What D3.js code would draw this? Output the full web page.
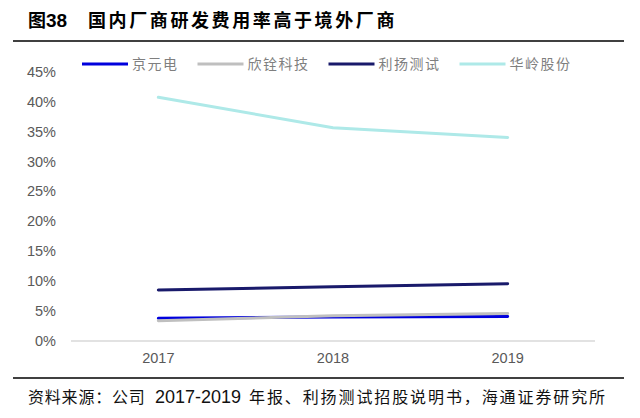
<!DOCTYPE html>
<html>
<head>
<meta charset="utf-8">
<script src="https://cdn.jsdelivr.net/npm/d3@7"></script>
<style>
  body { margin: 0; background: #fff; }
  svg { display: block; }
</style>
</head>
<body>
<script>
// data
const years = ['2017', '2018', '2019'];
const companies = ['京元电', '欣铨科技', '利扬测试', '华岭股份'];
const jingyuandian = [3.8, 4.0, 4.1];
const xinquan = [3.4, 4.2, 4.6];
const liyang = [8.5, 9.05, 9.55];
const hualing = [40.7, 35.6, 34.0];
const yTicks = [0, 5, 10, 15, 20, 25, 30, 35, 40, 45];

const colors = ['#0000dd', '#bfbfbf', '#191a6b', '#aee9e8'];
const seriesValues = [jingyuandian, xinquan, liyang, hualing];

const width = 640, height = 418;
const cjk = '"Noto Sans CJK SC", sans-serif';
const latin = '"Liberation Sans", Arial, sans-serif';

const svg = d3.select('body').append('svg')
    .attr('width', width)
    .attr('height', height);

// title
const title = svg.append('text')
    .attr('y', 27)
    .style('font-weight', 'bold')
    .style('font-size', '18px')
    .attr('fill', '#000');
title.append('tspan').attr('x', 28).style('font-family', cjk).text('图');
title.append('tspan').style('font-family', latin).style('font-size', '19px').text('38');
title.append('tspan')
    .attr('x', 88)
    .style('font-family', cjk)
    .style('letter-spacing', '2.6px')
    .text('国内厂商研发费用率高于境外厂商');

svg.append('line')
    .attr('x1', 13).attr('x2', 624)
    .attr('y1', 41).attr('y2', 41)
    .attr('stroke', '#000')
    .attr('stroke-width', 1.6);

const x = d3.scaleBand()
    .domain(years)
    .range([71, 595]);

const y = d3.scaleLinear()
    .domain([0, 45])
    .range([341, 71.5]);

// x axis baseline
svg.append('line')
    .attr('x1', x.range()[0]).attr('x2', x.range()[1])
    .attr('y1', y(0)).attr('y2', y(0))
    .attr('stroke', '#d9d9d9')
    .attr('stroke-width', 1.3);

// y tick labels
svg.append('g')
    .selectAll('text')
    .data(yTicks)
    .enter().append('text')
    .attr('x', 56)
    .attr('y', d => y(d))
    .attr('dy', '0.36em')
    .attr('text-anchor', 'end')
    .style('font-family', latin)
    .style('font-size', '14.5px')
    .attr('fill', '#595959')
    .text(d => d + '%');

// x tick labels
svg.append('g')
    .selectAll('text')
    .data(years)
    .enter().append('text')
    .attr('x', d => x(d) + x.bandwidth() / 2)
    .attr('y', 363)
    .attr('text-anchor', 'middle')
    .style('font-family', latin)
    .style('font-size', '14.5px')
    .attr('fill', '#595959')
    .text(d => d);

// lines
const line = d3.line()
    .x((d, i) => x(years[i]) + x.bandwidth() / 2)
    .y(d => y(d));

svg.append('g')
    .selectAll('path')
    .data(seriesValues)
    .enter().append('path')
    .attr('d', d => line(d))
    .attr('fill', 'none')
    .attr('stroke', (d, i) => colors[i])
    .attr('stroke-width', 3)
    .attr('stroke-linecap', 'round')
    .attr('stroke-linejoin', 'round');

// legend
const legend = svg.append('g');
let lx = 82;
companies.forEach((name, i) => {
    legend.append('line')
        .attr('x1', lx).attr('x2', lx + 46)
        .attr('y1', 64).attr('y2', 64)
        .attr('stroke', colors[i])
        .attr('stroke-width', 3);
    const t = legend.append('text')
        .attr('x', lx + 50)
        .attr('y', 64)
        .attr('dy', '0.36em')
        .style('font-family', cjk)
        .style('font-size', '14px')
        .style('letter-spacing', '1.5px')
        .attr('fill', '#7f7f7f')
        .text(name);
    lx += 50 + t.node().getComputedTextLength() + 19;
});

// source
svg.append('line')
    .attr('x1', 13).attr('x2', 624)
    .attr('y1', 378).attr('y2', 378)
    .attr('stroke', '#000')
    .attr('stroke-width', 1.6);

const src = svg.append('text')
    .attr('y', 403)
    .style('font-size', '16px')
    .attr('fill', '#111');
src.append('tspan').attr('x', 28).style('font-family', cjk).style('letter-spacing', '0.8px').text('资料来源：公司');
src.append('tspan').attr('x', 155).style('font-family', latin).style('font-size', '18px').text('2017-2019');
src.append('tspan').attr('x', 249).style('font-family', cjk).style('letter-spacing', '1.9px')
    .text('年报、利扬测试招股说明书，海通证券研究所');
</script>
</body>
</html>
